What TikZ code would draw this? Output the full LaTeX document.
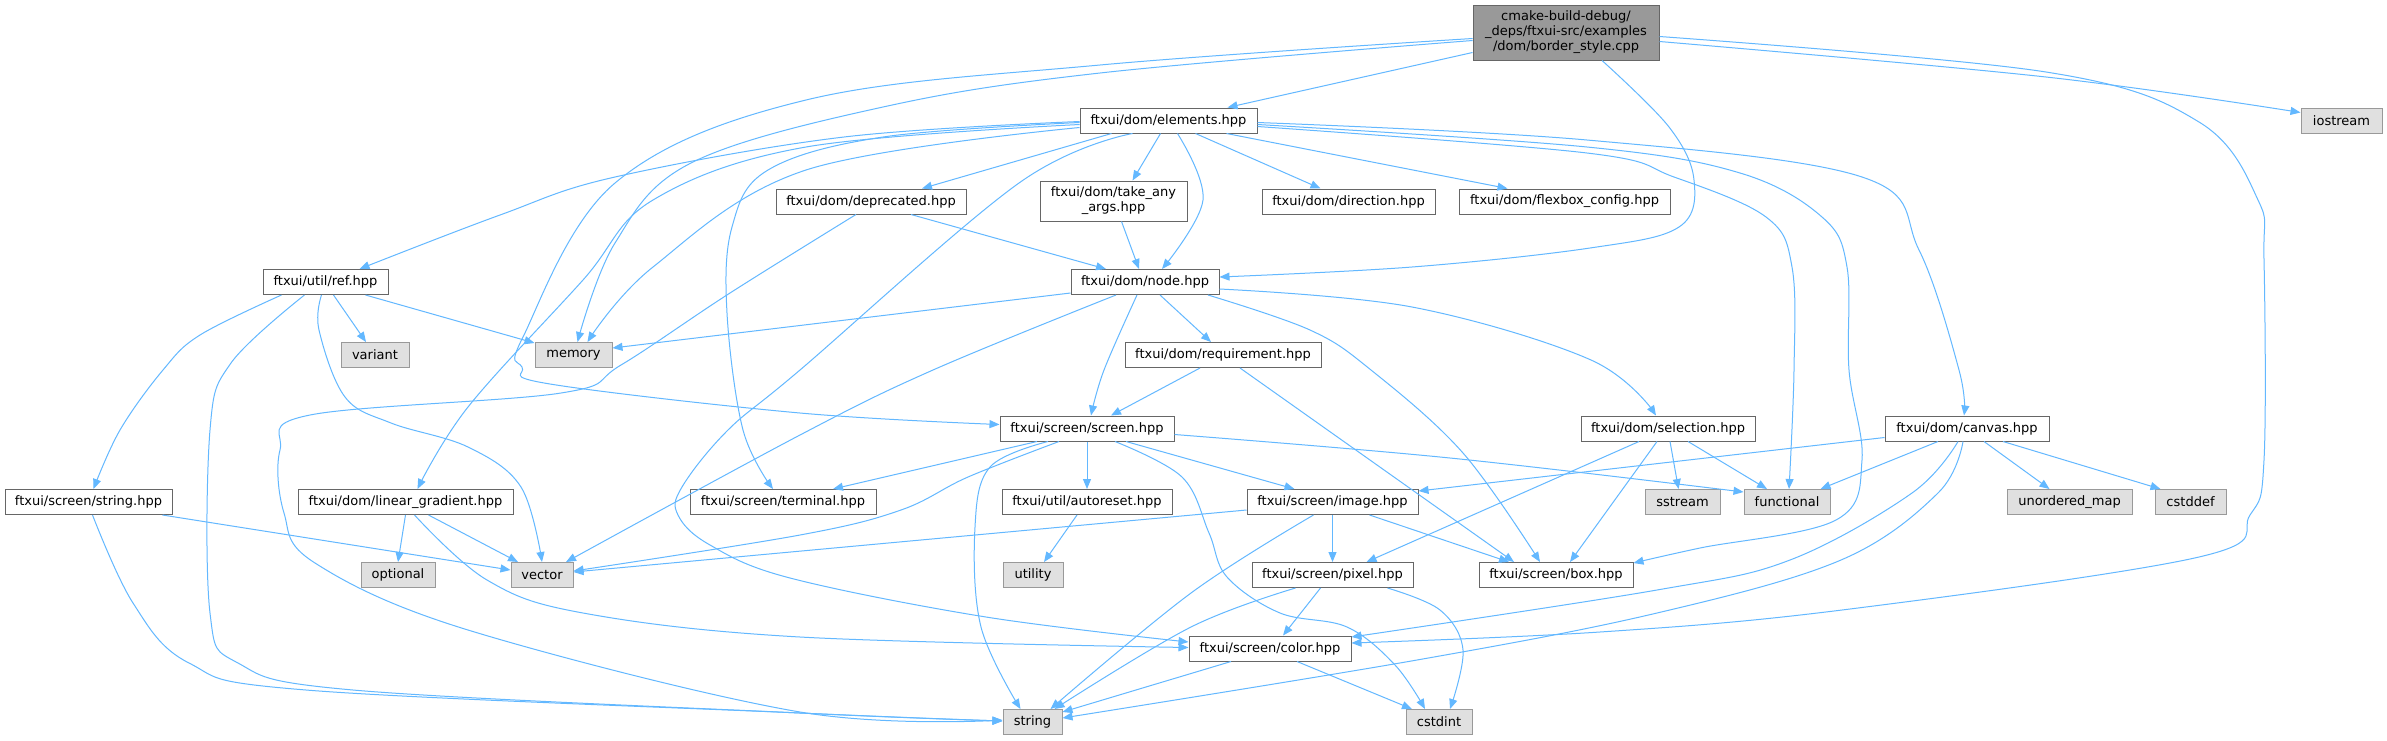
\documentclass[tikz,border=0pt]{standalone}
\usepackage{fontspec}
\setmainfont{DejaVu Sans}
\usetikzlibrary{arrows.meta,calc}
\definecolor{edgeblue}{HTML}{63B8FF}
\definecolor{boxdark}{HTML}{666666}
\definecolor{boxgray}{HTML}{999999}
\definecolor{sysfill}{HTML}{E0E0E0}
\tikzset{
  hdr/.style={draw=boxdark, fill=white, line width=1pt, inner sep=0pt,
    minimum height=25pt, align=center, font=\fontsize{13}{15}\selectfont},
  sys/.style={hdr, draw=boxgray, fill=sysfill},
  edge/.style={draw=edgeblue, line width=1pt, -{Triangle[length=10pt,width=8pt]}},
  sm/.style={smooth, tension=0.6}
}
\begin{document}
\begin{tikzpicture}[x=1pt,y=-1pt]
\useasboundingbox[fill=white] (0,0) rectangle (2387,740);
% nodes
\node[hdr, fill=boxgray, minimum width=186pt, minimum height=55pt] (main) at (1566,32.5) {cmake-build-debug/\\\_deps/ftxui-src/examples\\/dom/border\_style.cpp};
\node[hdr, minimum width=177pt] (elements) at (1168.5,120.5) {ftxui/dom/elements.hpp};
\node[sys, minimum width=81pt] (iostream) at (2341.5,120.5) {iostream};
\node[hdr, minimum width=190pt] (deprecated) at (871,201.5) {ftxui/dom/deprecated.hpp};
\node[hdr, minimum width=147pt, minimum height=40pt] (take) at (1113.5,201) {ftxui/dom/take\_any\\\_args.hpp};
\node[hdr, minimum width=173pt] (direction) at (1348.5,201.5) {ftxui/dom/direction.hpp};
\node[hdr, minimum width=211pt] (flexbox) at (1564.5,201.5) {ftxui/dom/flexbox\_config.hpp};
\node[hdr, minimum width=125pt] (ref) at (325.5,282) {ftxui/util/ref.hpp};
\node[hdr, minimum width=148pt] (node) at (1145,282) {ftxui/dom/node.hpp};
\node[sys, minimum width=68pt] (variant) at (375,355) {variant};
\node[sys, minimum width=77pt] (memory) at (573.5,355) {memory};
\node[hdr, minimum width=196pt] (requirement) at (1223,355) {ftxui/dom/requirement.hpp};
\node[hdr, minimum width=174pt] (screen) at (1087,428.5) {ftxui/screen/screen.hpp};
\node[hdr, minimum width=174pt] (selection) at (1668,428.5) {ftxui/dom/selection.hpp};
\node[hdr, minimum width=164pt] (canvas) at (1967,428.5) {ftxui/dom/canvas.hpp};
\node[hdr, minimum width=167pt] (strhpp) at (88.5,502) {ftxui/screen/string.hpp};
\node[hdr, minimum width=215pt] (lingrad) at (405.5,502) {ftxui/dom/linear\_gradient.hpp};
\node[hdr, minimum width=186pt] (terminal) at (783,502) {ftxui/screen/terminal.hpp};
\node[hdr, minimum width=170pt] (autoreset) at (1087,502) {ftxui/util/autoreset.hpp};
\node[hdr, minimum width=171pt] (image) at (1332.5,502) {ftxui/screen/image.hpp};
\node[sys, minimum width=75pt] (sstream) at (1682.5,502) {sstream};
\node[sys, minimum width=86pt] (functional) at (1787,502) {functional};
\node[sys, minimum width=125pt] (unordered) at (2069.5,502) {unordered\_map};
\node[sys, minimum width=71pt] (cstddef) at (2190.5,502) {cstddef};
\node[sys, minimum width=74pt] (optional) at (398,575) {optional};
\node[sys, minimum width=62pt] (vector) at (542,575) {vector};
\node[sys, minimum width=60pt] (utility) at (1033,575) {utility};
\node[hdr, minimum width=161pt] (pixel) at (1332.5,575) {ftxui/screen/pixel.hpp};
\node[hdr, minimum width=154pt] (box) at (1556,575) {ftxui/screen/box.hpp};
\node[hdr, minimum width=162pt] (color) at (1270,648.5) {ftxui/screen/color.hpp};
\node[sys, minimum width=59pt] (string) at (1032.5,722) {string};
\node[sys, minimum width=66pt] (cstdint) at (1439,722) {cstdint};

% main
\draw[edge] ($(main.west)+(0,20)$) -- ($(elements.north)+(59,0)$);
\draw[edge] plot[sm] coordinates {($(main.east)+(0,9)$) (2046,77) ($(iostream.west)+(0,-8)$)};
\draw[edge] plot[sm] coordinates {($(main.east)+(0,4)$) (2046,72) (2199,122) (2258,200) (2264,260) (2264,460) (2250,515) (2199,557) (1842,610) (1600,632) ($(color.east)+(0,-5.5)$)};
\draw[edge] plot[sm] coordinates {($(main.south)+(36,0)$) (1669,127) (1694,180) (1679,227) (1590,248) (1412,267) ($(node.east)+(0,-5)$)};
\draw[edge] plot[sm] coordinates {($(main.west)+(0,8)$) (1100,73) (883,107) (691,163) (615,243) ($(memory.north)+(4,0)$)};
\draw[edge] plot[sm] coordinates {($(main.west)+(0,6)$) (1100,65) (806,100) (615,183) (523,337) (522,367) (550,384) (800,413) ($(screen.west)+(0,-4)$)};
% elements
\draw[edge] plot[sm] coordinates {($(elements.west)+(0,1)$) (844,137) (615,177) (500,215) ($(ref.north)+(34,0)$)};
\draw[edge] plot[sm] coordinates {($(elements.west)+(0,7)$) (806,170) (653,267) ($(memory.north)+(14,0)$)};
\draw[edge] plot[sm] coordinates {($(elements.west)+(0,4)$) (806,147) (653,200) (583,280) (468,407) ($(lingrad.north)+(12,0)$)};
\draw[edge] plot[sm] coordinates {($(elements.west)+(0,2)$) (883,137) (768,170) (732,227) (727,313) (743,430) ($(terminal.north)+(-10,0)$)};
\draw[edge] ($(elements.south)+(-57,0)$) -- ($(deprecated.north)+(51,0)$);
\draw[edge] plot[sm] coordinates {($(elements.south)+(-36,0)$) (1019,183) (800,370) (728,430) (682,487) (678,515) (710,545) (790,578) (986,617) ($(color.west)+(0,-6.5)$)};
\draw[edge] ($(elements.south)+(-8,0)$) -- ($(take.north)+(19,0)$);
\draw[edge] plot[sm] coordinates {($(elements.south)+(9,0)$) (1203,200) ($(node.north)+(17,0)$)};
\draw[edge] ($(elements.south)+(27,0)$) -- ($(direction.north)+(-28,0)$);
\draw[edge] ($(elements.south)+(58,0)$) -- ($(flexbox.north)+(-57,0)$);
\draw[edge] plot[sm] coordinates {($(elements.east)+(0,2)$) (1587,140) (1862,177) (1919,250) (1959,370) ($(canvas.north)+(-3,0)$)};
\draw[edge] plot[sm] coordinates {($(elements.east)+(0,4)$) (1587,147) (1740,173) (1822,217) (1847,267) (1849,370) (1862,460) (1836,520) (1700,548) ($(box.east)+(0,-12)$)};
\draw[edge] plot[sm] coordinates {($(elements.east)+(0,6)$) (1587,153) (1674,177) (1766,217) (1792,267) (1794,370) ($(functional.north)+(2,0)$)};
% deprecated, take
\draw[edge] ($(deprecated.south)+(40,0)$) -- ($(node.north)+(-39,0)$);
\draw[edge] plot[sm] coordinates {($(deprecated.south)+(-15,0)$) (730,293) (621,365) (561,393) (310,415) (280,450) (284,513) (315,563) (468,630) (800,712) ($(string.west)+(0,-2)$)};
\draw[edge] ($(take.south)+(8,0)$) -- ($(node.north)+(-6,0)$);
% ref
\draw[edge] ($(ref.south)+(8,0)$) -- ($(variant.north)+(-9,0)$);
\draw[edge] ($(ref.south)+(40,0)$) -- ($(memory.west)+(0,-12)$);
\draw[edge] plot[sm] coordinates {($(ref.south)+(-4,0)$) (319,330) (345,397) (391,423) (468,447) (521,487) (vector.north)};
\draw[edge] plot[sm] coordinates {($(ref.south)+(-44,0)$) (200,335) (163,370) (120,430) ($(strhpp.north)+(5,0)$)};
\draw[edge] plot[sm] coordinates {($(ref.south)+(-21,0)$) (231,363) (210,430) (210,613) (238,663) (353,690) (800,713) ($(string.west)+(0,-1)$)};
% node
\draw[edge] ($(node.west)+(0,11)$) -- ($(memory.east)+(0,-7)$);
\draw[edge] plot[sm] coordinates {($(node.south)+(-29,0)$) (933,370) (800,435) ($(vector.north)+(24,0)$)};
\draw[edge] plot[sm] coordinates {($(node.south)+(-8,0)$) (1104,370) ($(screen.north)+(4,0)$)};
\draw[edge] ($(node.south)+(15,0)$) -- ($(requirement.north)+(-12,0)$);
\draw[edge] plot[sm] coordinates {($(node.south)+(63,0)$) (1310,330) (1371,370) (1463,453) ($(box.north)+(-16,0)$)};
\draw[edge] plot[sm] coordinates {($(node.east)+(0,7)$) (1412,307) (1591,360) ($(selection.north)+(-12,0)$)};
% requirement
\draw[edge] ($(requirement.south)+(-23,0)$) -- ($(screen.north)+(24,0)$);
\draw[edge] ($(requirement.south)+(17,0)$) -- ($(box.north)+(-42,0)$);
% screen
\draw[edge] ($(screen.south)+(-50,0)$) -- ($(terminal.north)+(50,0)$);
\draw[edge] (screen.south) -- (autoreset.north);
\draw[edge] ($(screen.south)+(39,0)$) -- ($(image.north)+(-38,0)$);
\draw[edge] plot[sm] coordinates {($(screen.east)+(0,6)$) (1450,458) ($(functional.west)+(0,-10)$)};
\draw[edge] plot[sm] coordinates {($(screen.south)+(-39,0)$) (990,467) (975,527) (981,627) ($(string.north)+(-12,0)$)};
\draw[edge] plot[sm] coordinates {($(screen.south)+(-28,0)$) (968,477) (901,510) (800,535) ($(vector.east)+(0,-4)$)};
\draw[edge] plot[sm] coordinates {($(screen.south)+(28,0)$) (1182,477) (1209,533) (1227,577) (1280,613) (1347,627) (1395,665) ($(cstdint.north)+(-14,0)$)};
% image
\draw[edge] plot[sm] coordinates {($(image.south)+(-19,0)$) (1191,593) ($(string.north)+(18,0)$)};
\draw[edge] ($(image.west)+(0,8)$) -- ($(vector.east)+(0,-3)$);
\draw[edge] (image.south) -- (pixel.north);
\draw[edge] ($(image.south)+(37,0)$) -- ($(box.north)+(-47,0)$);
% pixel
\draw[edge] plot[sm] coordinates {($(pixel.south)+(-37,0)$) (1191,627) ($(string.north)+(22,0)$)};
\draw[edge] ($(pixel.south)+(-12,0)$) -- ($(color.north)+(13,0)$);
\draw[edge] plot[sm] coordinates {($(pixel.south)+(55,0)$) (1440,610) (1463,650) ($(cstdint.north)+(11,0)$)};
% color
\draw[edge] ($(color.south)+(-39,0)$) -- ($(string.east)+(0,-10)$);
\draw[edge] ($(color.south)+(27,0)$) -- ($(cstdint.north)+(-27,0)$);
% canvas
\draw[edge] ($(canvas.west)+(0,9)$) -- ($(image.east)+(0,-11)$);
\draw[edge] ($(canvas.south)+(-29,0)$) -- ($(functional.north east)+(-10,0)$);
\draw[edge] ($(canvas.south)+(17,0)$) -- ($(unordered.north)+(-20,0)$);
\draw[edge] ($(canvas.south)+(36,0)$) -- ($(cstddef.north)+(-30,0)$);
\draw[edge] plot[sm] coordinates {($(canvas.south)+(-9,0)$) (1912,493) (1790,560) (1657,590) ($(color.east)+(0,-11.5)$)};
\draw[edge] plot[sm] coordinates {($(canvas.south)+(-4,0)$) (1938,493) (1841,560) (1657,613) (1417,660) ($(string.east)+(0,-4)$)};
% selection
\draw[edge] ($(selection.south)+(2,0)$) -- ($(sstream.north)+(-4,0)$);
\draw[edge] ($(selection.south)+(20,0)$) -- ($(functional.north)+(-20,0)$);
\draw[edge] ($(selection.south)+(-29,0)$) -- ($(pixel.north)+(34,0)$);
\draw[edge] ($(selection.south)+(-11,0)$) -- ($(box.north)+(14,0)$);
% string.hpp
\draw[edge] ($(strhpp.south east)+(-10,0)$) -- ($(vector.west)+(0,-5)$);
\draw[edge] plot[sm] coordinates {($(strhpp.south)+(4,0)$) (133,603) (189,663) (306,690) (800,713) ($(string.west)+(0,-1)$)};
% linear gradient
\draw[edge] (lingrad.south) -- (optional.north);
\draw[edge] ($(lingrad.south)+(23,0)$) -- ($(vector.north)+(-24,0)$);
\draw[edge] plot[sm] coordinates {($(lingrad.south)+(9,0)$) (487,580) (583,613) (800,637) ($(color.west)+(0,-1)$)};
% autoreset
\draw[edge] ($(autoreset.south)+(-10,0)$) -- ($(utility.north)+(11,0)$);
\end{tikzpicture}
\end{document}
